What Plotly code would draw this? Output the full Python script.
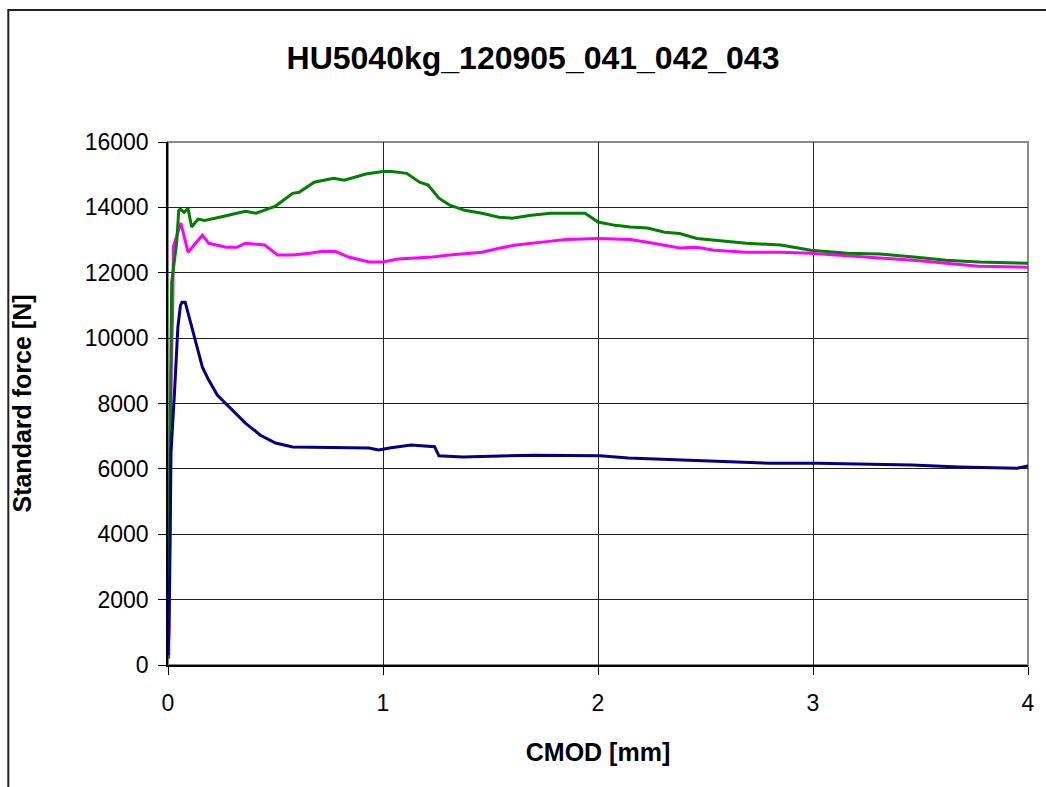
import plotly.graph_objects as go

# ---- data ----
green_x = [0, 0.002, 0.005, 0.01, 0.017, 0.04, 0.05, 0.056, 0.075, 0.093, 0.11, 0.14, 0.17, 0.24, 0.30,
           0.36, 0.41, 0.50, 0.58, 0.61, 0.68, 0.77, 0.82, 0.92, 1.0, 1.04, 1.11, 1.17, 1.21, 1.26,
           1.31, 1.38, 1.46, 1.54, 1.60, 1.69, 1.78, 1.94, 2.0, 2.08, 2.15, 2.23, 2.31, 2.38, 2.46,
           2.54, 2.69, 2.85, 2.99, 3.16, 3.31, 3.47, 3.62, 3.77, 4.0]
green_y = [300, 200, 3800, 8000, 11700, 12900, 13900, 13950, 13850, 13970, 13400, 13640, 13600, 13700, 13780,
           13880, 13820, 14040, 14430, 14460, 14770, 14890, 14830, 15020, 15100, 15100, 15040, 14770, 14680, 14280,
           14070, 13910, 13820, 13700, 13670, 13760, 13820, 13820, 13550, 13450, 13400, 13370, 13240, 13200, 13050,
           13000, 12900, 12850, 12690, 12600, 12570, 12480, 12380, 12330, 12290]

pink_x = [0.003, 0.008, 0.015, 0.022, 0.025, 0.06, 0.093, 0.16, 0.19, 0.27, 0.32, 0.36, 0.45, 0.51, 0.58,
          0.66, 0.72, 0.78, 0.84, 0.935, 1.0, 1.07, 1.23, 1.31, 1.46, 1.54, 1.61, 1.77, 1.85, 2.0,
          2.15, 2.23, 2.31, 2.38, 2.46, 2.54, 2.69, 2.85, 2.99, 3.16, 3.31, 3.47, 3.62, 3.77, 4.0]
pink_y = [200, 5000, 9000, 11000, 12800, 13520, 12630, 13150, 12900, 12780, 12780, 12900, 12850, 12540, 12540,
          12600, 12660, 12650, 12480, 12330, 12330, 12420, 12480, 12540, 12630, 12750, 12840, 12960, 13020, 13050,
          13020, 12930, 12840, 12760, 12780, 12690, 12630, 12630, 12600, 12510, 12450, 12380, 12290, 12200, 12170]

blue_x = [0, 0.004, 0.008, 0.01, 0.014, 0.03, 0.035, 0.046, 0.058, 0.065, 0.08, 0.11, 0.16, 0.19, 0.23,
          0.29, 0.36, 0.43, 0.50, 0.58, 0.75, 0.934, 0.98, 1.03, 1.13, 1.24, 1.26, 1.37, 1.70, 2.01,
          2.14, 2.36, 2.58, 2.80, 3.02, 3.24, 3.46, 3.68, 3.95, 4.0]
blue_y = [300, 1000, 2700, 5300, 6500, 8300, 9100, 10340, 11000, 11100, 11100, 10340, 9110, 8710, 8250,
          7860, 7400, 7030, 6790, 6670, 6660, 6640, 6580, 6640, 6730, 6680, 6400, 6360, 6420, 6400,
          6330, 6270, 6210, 6170, 6170, 6150, 6120, 6060, 6020, 6090]

title_text = "HU5040kg_120905_041_042_043"
x_title = "CMOD [mm]"
y_title = "Standard force [N]"
x_ticks = [0, 1, 2, 3, 4]
y_ticks = [0, 2000, 4000, 6000, 8000, 10000, 12000, 14000, 16000]

FONT = "Liberation Sans, Arial, sans-serif"

fig = go.Figure()
fig.add_trace(go.Scatter(x=pink_x, y=pink_y, mode="lines", line=dict(color="#FF00FF", width=3), showlegend=False))
fig.add_trace(go.Scatter(x=green_x, y=green_y, mode="lines", line=dict(color="#008000", width=3), showlegend=False))
fig.add_trace(go.Scatter(x=blue_x, y=blue_y, mode="lines", line=dict(color="#000080", width=3), showlegend=False))

L, R, T, B = 168, 11, 142, 122
PW = 1046 - L - R
PH = 787 - T - B

fig.update_layout(
    width=1046, height=787,
    margin=dict(l=L, r=R, t=T, b=B),
    paper_bgcolor="white", plot_bgcolor="white",
    font=dict(family=FONT, color="black", size=23),
    title=dict(text="<b>" + title_text + "</b>", x=533 / 1046, xanchor="center", xref="container",
               y=1 - 58 / 787, yanchor="middle", font=dict(size=32, family=FONT)),
)
fig.update_xaxes(
    range=[0, 4], tickvals=x_ticks, ticktext=[str(v) for v in x_ticks],
    showgrid=True, gridcolor="#222222", gridwidth=1,
    showline=True, linecolor="black", linewidth=1.5,
    ticks="outside", ticklen=8, tickcolor="black", tickwidth=1,
    ticklabelstandoff=9, tickfont=dict(size=23),
    title=dict(text="<b>" + x_title + "</b>", font=dict(size=25), standoff=28),
    zeroline=False,
)
fig.update_yaxes(
    range=[0, 16000], tickvals=y_ticks, ticktext=[str(v) for v in y_ticks],
    showgrid=True, gridcolor="#222222", gridwidth=1,
    showline=True, linecolor="black", linewidth=1.5,
    ticks="outside", ticklen=8, tickcolor="black", tickwidth=1,
    ticklabelstandoff=5, tickfont=dict(size=23),
    title=dict(text="<b>" + y_title + "</b>", font=dict(size=25), standoff=46),
    zeroline=False,
)
# plot-area border (gray top/right)
fig.add_shape(type="rect", xref="paper", yref="paper", x0=0, x1=1, y0=0, y1=1,
              line=dict(color="#8a8a8a", width=2), layer="below")
# outer chart frame (left and top visible)
fig.add_shape(type="rect", xref="paper", yref="paper",
              x0=(7 - L) / PW, x1=1.2, y0=-0.5, y1=(787 - B - 10) / PH,
              line=dict(color="#222222", width=2))

fig.write_html("out.html", config={"displayModeBar": False},
               post_script="document.body.style.margin='0px';document.body.style.overflow='hidden';")
